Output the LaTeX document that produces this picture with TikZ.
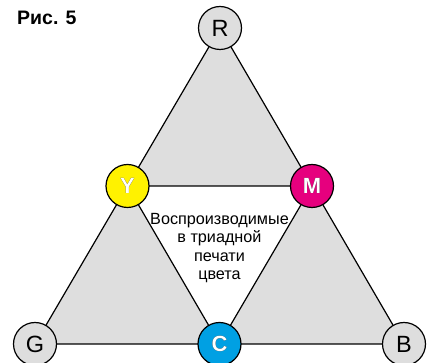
\documentclass[tikz,border=0pt]{standalone}
\usepackage{fontspec}
\setmainfont{Liberation Sans}
\usepackage[outline]{contour}
\contourlength{0.8pt}
\definecolor{tri}{HTML}{DEDEDE}
\definecolor{cyel}{HTML}{FFF200}
\definecolor{cmag}{HTML}{E6007E}
\definecolor{ccya}{HTML}{00A0E3}
\tikzset{
  dot/.style={circle, draw=black, line width=1.2pt, minimum size=43pt, inner sep=0pt, font=\fontsize{23.5}{23.5}\selectfont},
  gdot/.style={dot, fill=tri},
  cdot/.style={dot, font=\fontsize{22}{22}\selectfont\bfseries},
  tri/.style={fill=tri, draw=black, line width=1.2pt, line join=round},
}
\begin{document}
\begin{tikzpicture}[x=1pt,y=-1pt]
\useasboundingbox (0,0) rectangle (429,363);
\coordinate (r) at (220,28);
\coordinate (g) at (35,344);
\coordinate (b) at (404,344);
\coordinate (y) at (127.5,186);
\coordinate (m) at (312,186);
\coordinate (c) at (219.5,344);
\draw[tri] (r) -- (y) -- (m) -- cycle;
\draw[tri] (y) -- (g) -- (c) -- cycle;
\draw[tri] (m) -- (c) -- (b) -- cycle;
\node[gdot] (R) at (r) {R};
\node[gdot] (G) at (g) {G};
\node[gdot] (B) at (b) {B};
\node[cdot, fill=cyel] (Y) at (y) {\contour{black}{\textcolor{white}{Y}}};
\node[cdot, fill=cmag] (M) at (m) {\contour{black}{\textcolor{white}{M}}};
\node[cdot, fill=ccya] (C) at (c) {\contour{black}{\textcolor{white}{C}}};
\node[align=center, font=\fontsize{16.2}{18.5}\selectfont, inner sep=0pt] (txt) at (219.5,248) {Воспроизводимые\\в триадной\\печати\\цвета};
\node[anchor=base west, inner sep=0pt, font=\fontsize{19.5}{19.5}\selectfont\bfseries] (fig) at (17,24.5) {Рис. 5};
\end{tikzpicture}
\end{document}
